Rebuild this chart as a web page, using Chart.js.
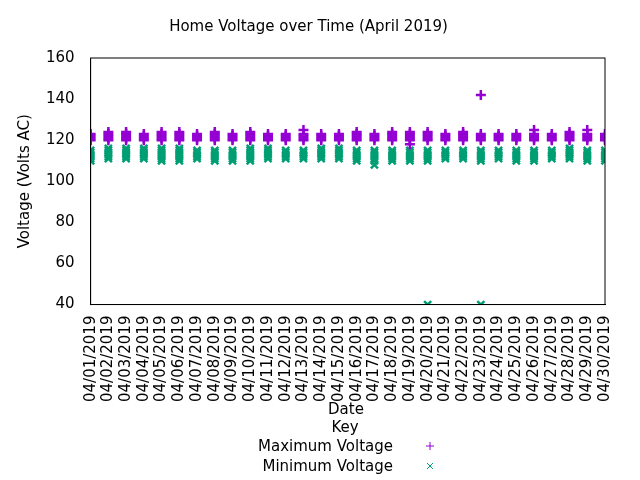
<!DOCTYPE html>
<html><head><meta charset="utf-8">
<script src="https://cdn.jsdelivr.net/npm/chart.js@4"></script>
<style>body{margin:0;background:#fff}#w{width:640px;height:480px}</style>
</head><body><div id="w"><canvas id="c"></canvas></div>
<script>
const days = ["04/01/2019","04/02/2019","04/03/2019","04/04/2019","04/05/2019","04/06/2019","04/07/2019","04/08/2019","04/09/2019","04/10/2019","04/11/2019","04/12/2019","04/13/2019","04/14/2019","04/15/2019","04/16/2019","04/17/2019","04/18/2019","04/19/2019","04/20/2019","04/21/2019","04/22/2019","04/23/2019","04/24/2019","04/25/2019","04/26/2019","04/27/2019","04/28/2019","04/29/2019","04/30/2019"];
const maxVoltage = [
 [120,121,122,123],[120,121,122,123,124],[120,121,122,123,124],[120,121,122,123],[120,121,122,123,124],
 [120,121,122,123,124],[120,121,122,123],[120,121,122,123,124],[120,121,122,123],[120,121,122,123,124],
 [120,121,122,123],[120,121,122,123],[120,121,122,123,125],[120,121,122,123],[120,121,122,123],
 [120,121,122,123,124],[120,121,122,123],[120,121,122,123,124],[118,120,121,122,123,124],[120,121,122,123,124],
 [120,121,122,123],[120,121,122,123,124],[120,121,122,123,142],[120,121,122,123],[120,121,122,123],
 [120,121,122,123,125],[120,121,122,123],[120,121,122,123,124],[120,121,122,123,125],[120,121,122,123]
];
const minVoltage = [
 [110,111,112,113,114,115],[111,112,113,114,115,116],[111,112,113,114,115,116],[111,112,113,114,115,116],[110,111,112,113,114,115,116],
 [110,111,112,113,114,115,116],[111,112,113,114,115],[110,111,112,113,114,115],[110,111,112,113,114,115],[110,111,112,113,114,115,116],
 [111,112,113,114,115,116],[111,112,113,114,115],[111,112,113,114,115],[111,112,113,114,115,116],[111,112,113,114,115,116],
 [110,111,112,113,114,115],[108,110,111,112,113,114,115],[110,111,112,113,114,115],[110,111,112,113,114,115],[40,110,111,112,113,114,115],
 [111,112,113,114,115],[111,112,113,114,115],[40,110,111,112,113,114,115],[111,112,113,114,115],[110,111,112,113,114,115],
 [110,111,112,113,114,115],[111,112,113,114,115],[111,112,113,114,115,116],[110,111,112,113,114,115],[110,111,112,113,114,115]
];
const yTicks = [40,60,80,100,120,140,160];
function pts(arr){const o=[];arr.forEach((vs,i)=>vs.forEach(v=>o.push({x:i+1,y:v})));return o;}
const F="'DejaVu Sans', sans-serif";
const legendPlugin={id:'leg',afterDraw(ch){const c=ch.ctx;c.save();c.font="15px "+F;c.fillStyle='#000';c.textAlign='center';
 c.fillText('Date',346,414);c.fillText('Key',345,432);c.textAlign='right';
 c.fillText('Maximum Voltage',393,451);c.fillText('Minimum Voltage',393,471);
 c.lineWidth=1;c.strokeStyle='#9400d3';c.beginPath();c.moveTo(426,446);c.lineTo(434,446);c.moveTo(430,442);c.lineTo(430,450);c.stroke();
 c.strokeStyle='#009e73';c.beginPath();c.moveTo(427,463);c.lineTo(433,469);c.moveTo(433,463);c.lineTo(427,469);c.stroke();
 c.restore();}};
new Chart(document.getElementById('c'),{type:'scatter',
 data:{datasets:[
  {label:'Maximum Voltage',data:pts(maxVoltage),pointStyle:'cross',borderColor:'#9400d3',backgroundColor:'#9400d3',pointRadius:5,borderWidth:2.5},
  {label:'Minimum Voltage',data:pts(minVoltage),pointStyle:'crossRot',borderColor:'#009e73',backgroundColor:'#009e73',pointRadius:5,borderWidth:2.5}
 ]},
 options:{responsive:true,maintainAspectRatio:false,animation:false,
  layout:{padding:{left:12,right:35,top:0,bottom:75}},
  plugins:{legend:{display:false},tooltip:{enabled:false},
   title:{display:true,text:'Home Voltage over Time (April 2019)',font:{family:F,size:15,weight:'normal'},color:'#000',padding:{top:18,bottom:22}}},
  scales:{
   x:{type:'linear',min:1,max:30,afterBuildTicks:a=>{a.ticks=days.map((d,i)=>({value:i+1}));},
    ticks:{autoSkip:false,maxRotation:90,minRotation:90,color:'#000',font:{family:F,size:15},callback:(v)=>days[v-1]},
    grid:{display:false},border:{color:'#000'}},
   y:{min:40,max:160,afterBuildTicks:a=>{a.ticks=yTicks.map(v=>({value:v}));},
    ticks:{color:'#000',font:{family:F,size:15},padding:8},
    title:{display:true,text:'Voltage (Volts AC)',color:'#000',font:{family:F,size:15}},
    grid:{display:false},border:{color:'#000'}}
  }}, plugins:[legendPlugin,{id:'box',afterDraw(ch){const a=ch.chartArea,c=ch.ctx;c.save();c.strokeStyle='#000';c.lineWidth=1;c.strokeRect(a.left,a.top,a.right-a.left,a.bottom-a.top);c.restore();}}]
});
</script></body></html>
